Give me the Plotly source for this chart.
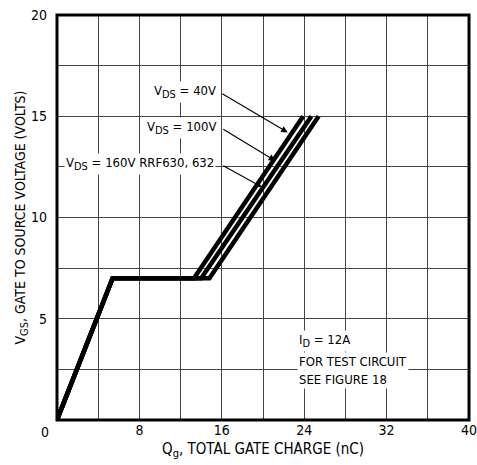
import plotly.graph_objects as go

# Gate-charge curves: Qg (nC) vs VGS (V) for three drain voltages
q_rise = [0.0, 5.4]          # initial rise to the Miller plateau
v_rise = [0.0, 7.0]
plateau_v = 7.0
plateau_end = {"40V": 13.3, "100V": 14.0, "160V": 14.8}
top_q = {"40V": 23.9, "100V": 24.7, "160V": 25.4}
top_v = 15.0

x_ticks = [4, 8, 12, 16, 20, 24, 28, 32, 36, 40]
x_ticktext = ["", "8", "", "16", "", "24", "", "32", "", "40"]
y_ticks = [2.5, 5, 7.5, 10, 12.5, 15, 17.5, 20]
y_ticktext = ["", "5", "", "10", "", "15", "", "20"]

FONT = "DejaVu Sans Condensed, Liberation Sans Narrow, Liberation Sans, sans-serif"


def sub(s, size=11):
    return f"<sub><span style='font-size:{size}px'>{s}</span></sub>"


fig = go.Figure()
for key in ["40V", "100V", "160V"]:
    xs = q_rise + [plateau_end[key], top_q[key]]
    ys = v_rise + [plateau_v, top_v]
    fig.add_trace(go.Scatter(x=xs, y=ys, mode="lines",
                             line=dict(color="black", width=4.5),
                             showlegend=False, hoverinfo="skip"))

# Curve labels with leader arrows
labels = [
    ("V" + sub("DS") + " = 40V", 15.6, 16.2, 15.9, 16.15, 22.4, 14.2),
    ("V" + sub("DS") + " = 100V", 15.6, 14.4, 16.0, 14.4, 21.2, 12.8),
    ("V" + sub("DS") + " = 160V RRF630, 632", 15.4, 12.65, 16.0, 12.6, 19.9, 11.5),
]
for text, tx, ty, ax, ay, hx, hy in labels:
    fig.add_annotation(x=tx, y=ty, text=text, showarrow=False,
                       xanchor="right", yanchor="middle",
                       bgcolor="white", borderpad=1,
                       font=dict(family=FONT, size=13, color="black"))
    fig.add_annotation(x=hx, y=hy, ax=ax, ay=ay, axref="x", ayref="y",
                       text="", showarrow=True, arrowhead=2, arrowsize=1.2,
                       arrowwidth=1.1, arrowcolor="black")

# Test conditions note
note = ["I" + sub("D") + " = 12A", "FOR TEST CIRCUIT", "SEE FIGURE 18"]
note_y = [3.9, 2.9, 2.0]
for t, y in zip(note, note_y):
    fig.add_annotation(x=23.3, y=y, text=t, showarrow=False,
                       xanchor="left", yanchor="middle", bgcolor="white",
                       font=dict(family=FONT, size=13, color="black"))

# Shared origin label
fig.add_annotation(x=-0.029, y=-0.03, xref="paper", yref="paper", text="0",
                   showarrow=False, xanchor="center", yanchor="middle",
                   font=dict(family=FONT, size=14, color="black"))

fig.update_layout(
    width=477, height=465,
    margin=dict(l=57, r=8, t=15, b=45),
    paper_bgcolor="white", plot_bgcolor="white",
    font=dict(family=FONT, size=14, color="black"),
    xaxis=dict(range=[0, 40], tickvals=x_ticks, ticktext=x_ticktext,
               showgrid=True, gridcolor="#444", gridwidth=1,
               zeroline=False, showline=False, ticks="",
               ticklabeloverflow="allow", automargin=False,
               title=dict(text="Q" + sub("g") + ", TOTAL GATE CHARGE (nC)",
                          font=dict(family=FONT, size=15), standoff=6)),
    yaxis=dict(range=[0, 20], tickvals=y_ticks, ticktext=y_ticktext,
               showgrid=True, gridcolor="#444", gridwidth=1,
               zeroline=False, showline=False, ticks="",
               ticklabelstandoff=9, ticklabeloverflow="allow", automargin=False,
               title=dict(text="V" + sub("GS") + ", GATE TO SOURCE VOLTAGE (VOLTS)",
                          font=dict(family=FONT, size=14), standoff=0)),
    shapes=[dict(type="rect", xref="paper", yref="paper", x0=0, y0=0, x1=1, y1=1,
                 line=dict(color="black", width=3), layer="above")],
)

fig.write_html("out.html")
